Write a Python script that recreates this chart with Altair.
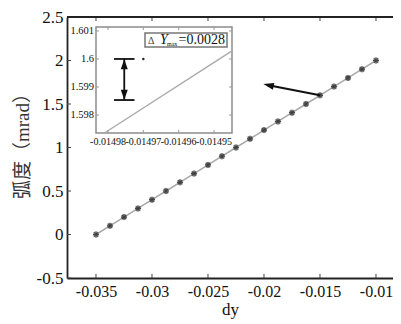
import altair as alt
import pandas as pd

# ---------------- data ----------------
dy_vals = [-0.035, -0.03375, -0.0325, -0.03125, -0.03, -0.02875, -0.0275,
           -0.02625, -0.025, -0.02375, -0.0225, -0.02125, -0.02, -0.01875,
           -0.0175, -0.01625, -0.015, -0.01375, -0.0125, -0.01125, -0.01]
rad_vals = [0.0, 0.1, 0.2, 0.3, 0.4, 0.5, 0.6, 0.7, 0.8, 0.9, 1.0,
            1.1, 1.2, 1.3, 1.4, 1.5, 1.6, 1.7, 1.8, 1.9, 2.0]

x_ticks = [-0.035, -0.03, -0.025, -0.02, -0.015, -0.01]
y_ticks = [-0.5, 0, 0.5, 1, 1.5, 2, 2.5]

arrow_x = [-0.015, -0.0196]
arrow_y = [1.6, 1.716]

inset_x_ticks = [-0.01498, -0.01497, -0.01496, -0.01495]
inset_x_labels = ["-0.01498", "-0.01497", "-0.01496", "-0.01495"]
inset_y_ticks = [1.598, 1.599, 1.6, 1.601]
inset_y_labels = ["1.598", "1.599", "1.6", "1.601"]

inset_line_x = [-0.014981, -0.0149449]
inset_line_y = [1.59736, 1.60029]

err_x = -0.0149754
err_top = 1.6
err_bottom = 1.598536
cap_half = 0.0000029
dot_x = -0.01497
dot_y = 1.6

legend_value = "=0.0028"

FONT = "Liberation Serif"
CJK_FONT = "Liberation Serif, Noto Sans CJK SC"
W, H = 326, 261

main_xs = alt.Scale(domain=[-0.037589, -0.008482], nice=False, zero=False)
main_ys = alt.Scale(domain=[-0.5, 2.5], nice=False, zero=False)
INSET_XR = [29, 165]
INSET_YR = [116, 10]
in_xs = alt.Scale(domain=[-0.0149834, -0.0149449], range=INSET_XR, nice=False, zero=False)
in_ys = alt.Scale(domain=[1.59736, 1.60114], range=INSET_YR, nice=False, zero=False)

def MX(f): return alt.X(f, type="quantitative", scale=main_xs, axis=None)
def MY(f): return alt.Y(f, type="quantitative", scale=main_ys, axis=None)
def IX(f): return alt.X(f, type="quantitative", scale=in_xs, axis=None)
def IY(f): return alt.Y(f, type="quantitative", scale=in_ys, axis=None)

main_df = pd.DataFrame({"dy": dy_vals, "rad": rad_vals})
one = pd.DataFrame({"a": [0]})

# ---------------- main ----------------
main_line = alt.Chart(main_df).mark_line(color="#a8a8a8", strokeWidth=1.5).encode(
    x=alt.X("dy:Q", scale=main_xs, axis=alt.Axis(
        title="dy", values=x_ticks, labelExpr="toString(datum.value)",
        ticks=False, grid=False, domainColor="#222", domainWidth=1.8,
        labelFont=FONT, labelFontSize=16, labelColor="#111", labelPadding=5,
        titleFont=FONT, titleFontSize=17, titleFontWeight="normal", titleColor="#111",
        titlePadding=2, labelFlush=False)),
    y=alt.Y("rad:Q", scale=main_ys, axis=alt.Axis(
        title="弧度（mrad）", values=y_ticks, labelExpr="toString(datum.value)",
        ticks=False, grid=False, domainColor="#222", domainWidth=1.8,
        labelFont=FONT, labelFontSize=17, labelColor="#111", labelPadding=4,
        titleFont=CJK_FONT, titleFontSize=19, titleX=-35, titleY=124,
        titleFontWeight="normal", titleColor="#333", labelFlush=False)),
)

halo = alt.Chart(main_df).mark_point(shape="circle", filled=True, color="#8a8a8a",
                                     opacity=0.55, size=40).encode(x=MX("dy"), y=MY("rad"))
stars = alt.Chart(main_df).mark_point(
    shape="M-1,0L1,0M0,-1L0,1M-0.7,-0.7L0.7,0.7M-0.7,0.7L0.7,-0.7",
    filled=False, color="#1a1a1a", strokeWidth=1.2, size=36).encode(x=MX("dy"), y=MY("rad"))

arrow_df = pd.DataFrame({"x": [arrow_x[0]], "y": [arrow_y[0]], "x2": [arrow_x[1]], "y2": [arrow_y[1]]})
arrow_rule = alt.Chart(arrow_df).mark_rule(color="#111", strokeWidth=2).encode(
    x=MX("x"), y=MY("y"), x2="x2", y2="y2")
arrow_head = alt.Chart(arrow_df).mark_point(
    shape="M-1,0L1,-0.65L1,0.65Z", filled=True, color="#111", size=110, opacity=1, angle=12
).encode(x=MX("x2"), y=MY("y2"))

xt_df = pd.DataFrame({"v": x_ticks})
yt_df = pd.DataFrame({"v": y_ticks})
bot_ticks = alt.Chart(xt_df).mark_rule(color="#444", strokeWidth=1).encode(
    x=MX("v"), y=alt.value(H), y2=alt.value(H - 4))
top_ticks = alt.Chart(xt_df).mark_rule(color="#444", strokeWidth=1).encode(
    x=MX("v"), y=alt.value(0), y2=alt.value(4))
left_ticks = alt.Chart(yt_df).mark_rule(color="#444", strokeWidth=1).encode(
    y=MY("v"), x=alt.value(0), x2=alt.value(4))
top_border = alt.Chart(one).mark_rule(color="#222", strokeWidth=1.8).encode(
    x=alt.value(0), x2=alt.value(W), y=alt.value(0))

# ---------------- inset ----------------
inset_bg = alt.Chart(one).mark_rect(fill="white", stroke="#8c8c8c", strokeWidth=1.5).encode(
    x=alt.value(INSET_XR[0]), x2=alt.value(INSET_XR[1]),
    y=alt.value(INSET_YR[1]), y2=alt.value(INSET_YR[0]))

in_line = alt.Chart(pd.DataFrame({"x": inset_line_x, "y": inset_line_y})).mark_line(
    color="#aaaaaa", strokeWidth=1.4).encode(x=IX("x"), y=IY("y"))

err_df = pd.DataFrame({"x": [err_x], "y": [err_top], "y2": [err_bottom]})
err_rule = alt.Chart(err_df).mark_rule(color="#111", strokeWidth=1.8).encode(
    x=IX("x"), y=IY("y"), y2="y2")
caps_df = pd.DataFrame({"x": [err_x - cap_half] * 2, "x2": [err_x + cap_half] * 2,
                        "y": [err_top, err_bottom]})
caps = alt.Chart(caps_df).mark_rule(color="#111", strokeWidth=1.8).encode(
    x=IX("x"), x2="x2", y=IY("y"))
head_up = alt.Chart(pd.DataFrame({"x": [err_x], "y": [err_top - 0.000185]})).mark_point(
    shape="M0,-1L0.7,1L-0.7,1Z", filled=True, color="#111", size=100, opacity=1
).encode(x=IX("x"), y=IY("y"))
head_down = alt.Chart(pd.DataFrame({"x": [err_x], "y": [err_bottom + 0.000185]})).mark_point(
    shape="M0,1L0.7,-1L-0.7,-1Z", filled=True, color="#111", size=100, opacity=1
).encode(x=IX("x"), y=IY("y"))
dot = alt.Chart(pd.DataFrame({"x": [dot_x], "y": [dot_y]})).mark_point(
    shape="circle", filled=True, color="#222", size=6, opacity=1).encode(x=IX("x"), y=IY("y"))

ixt = pd.DataFrame({"v": inset_x_ticks, "t": inset_x_labels})
iyt = pd.DataFrame({"v": inset_y_ticks, "t": inset_y_labels})
in_tick_b = alt.Chart(ixt).mark_rule(color="#999", strokeWidth=1).encode(
    x=IX("v"), y=alt.value(INSET_YR[0]), y2=alt.value(INSET_YR[0] - 3))
in_tick_t = alt.Chart(ixt).mark_rule(color="#999", strokeWidth=1).encode(
    x=IX("v"), y=alt.value(INSET_YR[1]), y2=alt.value(INSET_YR[1] + 3))
in_tick_l = alt.Chart(iyt).mark_rule(color="#999", strokeWidth=1).encode(
    y=IY("v"), x=alt.value(INSET_XR[0]), x2=alt.value(INSET_XR[0] + 3))
in_tick_r = alt.Chart(iyt).mark_rule(color="#999", strokeWidth=1).encode(
    y=IY("v"), x=alt.value(INSET_XR[1]), x2=alt.value(INSET_XR[1] - 3))
in_xlab = alt.Chart(ixt).mark_text(font=FONT, fontSize=10, color="#111",
                                   baseline="top", align="center").encode(
    x=IX("v"), y=alt.value(INSET_YR[0] + 4), text="t:N")
in_ylab = alt.Chart(iyt).mark_text(font=FONT, fontSize=10.5, color="#111",
                                   baseline="middle", align="right").encode(
    y=IY("v"), x=alt.value(INSET_XR[0] - 2), text="t:N")

# legend box
leg_box = alt.Chart(one).mark_rect(fill="white", stroke="#777", strokeWidth=1.5).encode(
    x=alt.value(78), x2=alt.value(160), y=alt.value(16), y2=alt.value(30))
leg_d = alt.Chart(one).mark_text(text="Δ", font=FONT, fontSize=10, color="#444",
                                 align="left", baseline="middle").encode(
    x=alt.value(81), y=alt.value(23.5))
leg_y = alt.Chart(one).mark_text(text="Y", font=FONT, fontSize=14, fontStyle="italic",
                                 color="#111", align="left", baseline="middle").encode(
    x=alt.value(93), y=alt.value(23))
leg_sub = alt.Chart(one).mark_text(text="max", font=FONT, fontSize=6, color="#111",
                                   align="left", baseline="middle").encode(
    x=alt.value(100), y=alt.value(27))
leg_val = alt.Chart(one).mark_text(text=legend_value, font=FONT, fontSize=14, color="#111",
                                   align="left", baseline="middle").encode(
    x=alt.value(111.5), y=alt.value(23))

chart = alt.layer(
    main_line, halo, stars, arrow_rule, arrow_head,
    bot_ticks, top_ticks, left_ticks, top_border,
    inset_bg, in_line, err_rule, caps, head_up, head_down, dot,
    in_tick_b, in_tick_t, in_tick_l, in_tick_r, in_xlab, in_ylab,
    leg_box, leg_d, leg_y, leg_sub, leg_val,
).resolve_scale(x="independent", y="independent").properties(
    width=W, height=H, autosize=alt.AutoSizeParams(type="none"),
    padding={"left": 59, "top": 9, "right": 0, "bottom": 46},
    background="white",
).configure_view(stroke=None)

chart.save("out.html", embed_options={"renderer": "svg", "actions": False})
